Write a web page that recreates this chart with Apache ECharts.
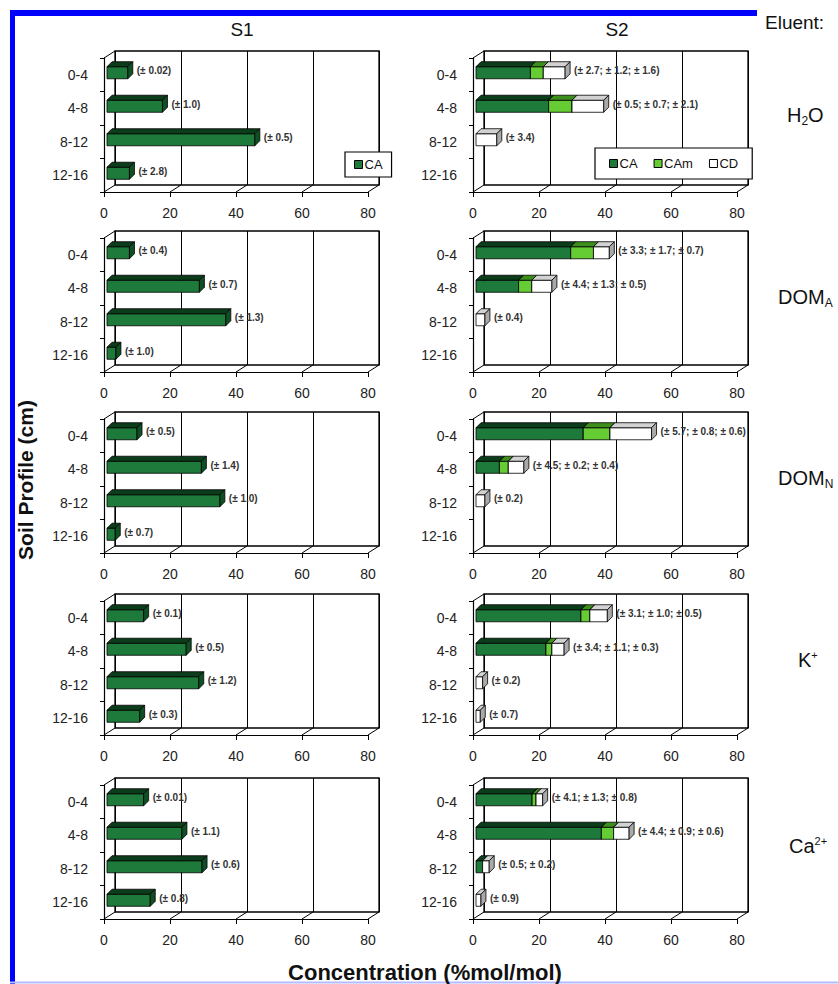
<!DOCTYPE html>
<html>
<head>
<meta charset="utf-8">
<title>Soil profile concentrations</title>
<script src="https://cdn.jsdelivr.net/npm/echarts@6/dist/echarts.min.js"></script>
<style>
html, body { margin: 0; padding: 0; background: #fff; }
#chart { width: 838px; height: 984px; }
</style>
</head>
<body>
<div id="chart"></div>
<script>
// depth classes on the y axis and ticks on the x axis
const categories = ['0-4', '4-8', '8-12', '12-16'];
const xTicks = [0, 20, 40, 60, 80];
const compNames = ['CA', 'CAm', 'CD'];

// S1 : CA only (%mol/mol)
const s1H2O = [6.3, 16.8, 44.8, 6.8];
const s1DomA = [6.8, 28.0, 36.0, 2.7];
const s1DomN = [9.1, 28.6, 34.2, 2.5];
const s1K = [11.1, 24.0, 27.8, 9.9];
const s1Ca = [11.1, 22.7, 28.8, 13.1];

// S2 : CA / CAm / CD
const s2H2O_CA = [16.5, 22.0, 0, 0];
const s2H2O_CAm = [3.9, 7.1, 0, 0];
const s2H2O_CD = [6.6, 9.6, 6.3, 0];
const s2DomA_CA = [28.7, 12.9, 0, 0];
const s2DomA_CAm = [6.9, 4.0, 0, 0];
const s2DomA_CD = [4.8, 6.1, 2.7, 0];
const s2DomN_CA = [32.5, 7.1, 0, 0];
const s2DomN_CAm = [8.1, 2.7, 0, 0];
const s2DomN_CD = [12.6, 4.7, 2.7, 0];
const s2K_CA = [31.8, 21.2, 0, 0];
const s2K_CAm = [2.7, 1.8, 0, 0];
const s2K_CD = [5.3, 3.7, 2.0, 1.3];
const s2Ca_CA = [17.0, 38.0, 2.0, 0];
const s2Ca_CAm = [1.2, 3.7, 0, 0];
const s2Ca_CD = [2.0, 4.7, 2.0, 1.5];

// error annotations
const s1H2O_err = ['(± 0.02)', '(± 1.0)', '(± 0.5)', '(± 2.8)'];
const s1DomA_err = ['(± 0.4)', '(± 0.7)', '(± 1.3)', '(± 1.0)'];
const s1DomN_err = ['(± 0.5)', '(± 1.4)', '(± 1.0)', '(± 0.7)'];
const s1K_err = ['(± 0.1)', '(± 0.5)', '(± 1.2)', '(± 0.3)'];
const s1Ca_err = ['(± 0.01)', '(± 1.1)', '(± 0.6)', '(± 0.8)'];
const s2H2O_err = ['(± 2.7; ± 1.2; ± 1.6)', '(± 0.5; ± 0.7; ± 2.1)', '(± 3.4)', ''];
const s2DomA_err = ['(± 3.3; ± 1.7; ± 0.7)', '(± 4.4; ± 1.3; ± 0.5)', '(± 0.4)', ''];
const s2DomN_err = ['(± 5.7; ± 0.8; ± 0.6)', '(± 4.5; ± 0.2; ± 0.4)', '(± 0.2)', ''];
const s2K_err = ['(± 3.1; ± 1.0; ± 0.5)', '(± 3.4; ± 1.1; ± 0.3)', '(± 0.2)', '(± 0.7)'];
const s2Ca_err = ['(± 4.1; ± 1.3; ± 0.8)', '(± 4.4; ± 0.9; ± 0.6)', '(± 0.5; ± 0.2)', '(± 0.9)'];

const FONT = '"Liberation Sans", Arial, sans-serif';

var panels = [
  { col: 0, row: 0, parts: [s1H2O], err: s1H2O_err },
  { col: 1, row: 0, parts: [s2H2O_CA, s2H2O_CAm, s2H2O_CD], err: s2H2O_err },
  { col: 0, row: 1, parts: [s1DomA], err: s1DomA_err },
  { col: 1, row: 1, parts: [s2DomA_CA, s2DomA_CAm, s2DomA_CD], err: s2DomA_err },
  { col: 0, row: 2, parts: [s1DomN], err: s1DomN_err },
  { col: 1, row: 2, parts: [s2DomN_CA, s2DomN_CAm, s2DomN_CD], err: s2DomN_err },
  { col: 0, row: 3, parts: [s1K], err: s1K_err },
  { col: 1, row: 3, parts: [s2K_CA, s2K_CAm, s2K_CD], err: s2K_err },
  { col: 0, row: 4, parts: [s1Ca], err: s1Ca_err },
  { col: 1, row: 4, parts: [s2Ca_CA, s2Ca_CAm, s2Ca_CD], err: s2Ca_err }
];

// layout
var colLeft = [104, 473];
var rowBottom = [192, 372, 553, 735, 919];
var plotW = 264, plotH = 134;
var DX = 11, DY = -7;       // wall depth
var BX = 5, BY = -5;        // bar depth
var faceColors = {
  CA: ['#1d7a3a', '#0b3d1b', '#0f4f24'],
  CAm: ['#66cc33', '#3d8f1c', '#4ba526'],
  CD: ['#ffffff', '#d2d2d2', '#a9a9a9']
};

function barRenderer(faces) {
  return function (params, api) {
    var v = api.value(0);
    if (!v) return null;
    var cat = api.value(1), base = api.value(2);
    var a = api.coord([base, cat]);
    var b = api.coord([base + v, cat]);
    var h = api.size([0, 1])[1] * 0.36;
    var x0 = a[0] + 3, x1 = b[0] + 3;
    var yT = a[1] - 2 - h / 2, yB = yT + h;
    return {
      type: 'group',
      children: [
        { type: 'rect', shape: { x: x0, y: yT, width: x1 - x0, height: h },
          style: { fill: faces[0], stroke: '#000', lineWidth: 0.8 } },
        { type: 'polygon', shape: { points: [[x0, yT], [x1, yT], [x1 + BX, yT + BY], [x0 + BX, yT + BY]] },
          style: { fill: faces[1], stroke: '#000', lineWidth: 0.8 } },
        { type: 'polygon', shape: { points: [[x1, yT], [x1 + BX, yT + BY], [x1 + BX, yB + BY], [x1, yB]] },
          style: { fill: faces[2], stroke: '#000', lineWidth: 0.8 } }
      ]
    };
  };
}

function labelRenderer(err) {
  return function (params, api) {
    var txt = err[params.dataIndex];
    if (!txt) return null;
    var p = api.coord([api.value(0), api.value(1)]);
    return {
      type: 'text', x: p[0] + 3 + BX + 4, y: p[1] - 4,
      style: { text: txt, fill: '#333', fontSize: 10, fontWeight: 'bold', fontFamily: FONT,
               align: 'left', verticalAlign: 'middle' }
    };
  };
}

function floorRenderer(params, api) {
  var cs = params.coordSys;
  var x = api.coord([api.value(0), 0])[0];
  var yb = cs.y + cs.height;
  var st = { stroke: '#000', lineWidth: 1 };
  var kids = [{ type: 'line', shape: { x1: x, y1: yb, x2: x + DX, y2: yb + DY }, style: st }];
  if (params.dataIndex === 0) {
    kids.push({ type: 'line', shape: { x1: cs.x, y1: cs.y, x2: cs.x + DX, y2: cs.y + DY }, style: st });
  }
  return { type: 'group', children: kids };
}

var grid = [], xAxis = [], yAxis = [], series = [];

panels.forEach(function (p, i) {
  var left = colLeft[p.col], top = rowBottom[p.row] - plotH;
  var gb = grid.length;
  // back wall
  grid.push({ left: left + DX, top: top + DY, width: plotW, height: plotH,
              show: true, borderColor: '#000', borderWidth: 1.3, backgroundColor: 'transparent' });
  xAxis.push({ type: 'value', gridIndex: gb, min: 0, max: 80, interval: 20,
               axisLine: { show: false }, axisTick: { show: false }, axisLabel: { show: false },
               splitLine: { show: true, lineStyle: { color: '#000', width: 1 } } });
  yAxis.push({ type: 'category', gridIndex: gb, data: categories, show: false });
  // front axes
  var gf = grid.length;
  grid.push({ left: left, top: top, width: plotW, height: plotH });
  xAxis.push({ type: 'value', gridIndex: gf, min: 0, max: 80, interval: 20,
               axisLine: { show: true, onZero: false, lineStyle: { color: '#000', width: 1.2 } },
               axisTick: { show: true, length: 5, lineStyle: { color: '#000' } },
               axisLabel: { fontSize: 14, color: '#222', margin: 14, fontFamily: FONT },
               splitLine: { show: false } });
  yAxis.push({ type: 'category', gridIndex: gf, data: categories, inverse: true,
               axisLine: { show: true, lineStyle: { color: '#000', width: 1.2 } },
               axisTick: { show: true, length: 4, lineStyle: { color: '#000' } },
               axisLabel: { fontSize: 14, color: '#222', margin: 16, fontFamily: FONT } });

  series.push({ type: 'custom', silent: true, xAxisIndex: gf, yAxisIndex: gf,
                renderItem: floorRenderer, data: xTicks.map(function (v) { return [v, 0]; }) });

  var base = categories.map(function () { return 0; });
  p.parts.forEach(function (vals, k) {
    var name = compNames[k];
    series.push({
      type: 'custom', name: name, xAxisIndex: gf, yAxisIndex: gf,
      itemStyle: { color: faceColors[name][0], borderColor: '#000', borderWidth: 1 },
      renderItem: barRenderer(faceColors[name]),
      encode: { x: 0, y: 1 },
      data: vals.map(function (v, j) { return [v, j, base[j]]; })
    });
    base = base.map(function (b, j) { return b + vals[j]; });
  });
  series.push({ type: 'custom', silent: true, xAxisIndex: gf, yAxisIndex: gf,
                renderItem: labelRenderer(p.err), encode: { x: 0, y: 1 },
                data: base.map(function (t, j) { return [t, j]; }) });
});

var legendBase = {
  orient: 'horizontal', icon: 'rect', itemWidth: 8, itemHeight: 8, itemGap: 16,
  borderColor: '#000', borderWidth: 1.2, backgroundColor: '#fff', selectedMode: false,
  itemStyle: { borderColor: '#000', borderWidth: 1 },
  textStyle: { fontSize: 13, color: '#111', fontFamily: FONT, padding: [0, 0, 0, -3] }
};

var sub = { fontSize: 12, fontFamily: FONT, padding: [12, 0, 0, 0] };
var sup = { fontSize: 11, fontFamily: FONT, padding: [0, 0, 10, 0] };
function sideLabel(text, x, y) {
  return { type: 'text', x: x, y: y,
           style: { text: text, fontSize: 20, fontFamily: FONT, fill: '#111', verticalAlign: 'middle',
                    rich: { s: sub, u: sup } } };
}

var option = {
  animation: false,
  grid: grid, xAxis: xAxis, yAxis: yAxis, series: series,
  legend: [
    Object.assign({}, legendBase, { data: ['CA'], left: 345, top: 152, padding: [6, 9] }),
    Object.assign({}, legendBase, { data: ['CA', 'CAm', 'CD'], left: 595, top: 148, padding: [9, 14] })
  ],
  graphic: [
    { type: 'line', shape: { x1: 10, y1: 13, x2: 757, y2: 13 }, style: { stroke: '#0000ff', lineWidth: 6 } },
    { type: 'line', shape: { x1: 12.5, y1: 10, x2: 12.5, y2: 984 }, style: { stroke: '#0000ff', lineWidth: 5 } },
    { type: 'line', shape: { x1: 10, y1: 982.5, x2: 838, y2: 982.5 }, style: { stroke: '#b4bcff', lineWidth: 2 } },
    { type: 'text', x: 242, y: 29, style: { text: 'S1', fontSize: 19, fontFamily: FONT, fill: '#111', align: 'center', verticalAlign: 'middle' } },
    { type: 'text', x: 617, y: 29, style: { text: 'S2', fontSize: 19, fontFamily: FONT, fill: '#111', align: 'center', verticalAlign: 'middle' } },
    { type: 'text', x: 765, y: 22, style: { text: 'Eluent:', fontSize: 19, fontFamily: FONT, fill: '#111', verticalAlign: 'middle' } },
    sideLabel('H{s|2}O', 787, 115),
    sideLabel('DOM{s|A}', 778, 297),
    sideLabel('DOM{s|N}', 778, 478),
    sideLabel('K{u|+}', 798, 660),
    sideLabel('Ca{u|2+}', 789, 846),
    { type: 'text', x: 25, y: 480, rotation: Math.PI / 2,
      style: { text: 'Soil Profile (cm)', fontSize: 21, fontWeight: 'bold', fontFamily: FONT, fill: '#111', align: 'center', verticalAlign: 'middle' } },
    { type: 'text', x: 425, y: 972,
      style: { text: 'Concentration (%mol/mol)', fontSize: 22, fontWeight: 'bold', fontFamily: FONT, fill: '#111', align: 'center', verticalAlign: 'middle' } }
  ]
};

var myChart = echarts.init(document.getElementById('chart'), null, { renderer: 'svg' });
myChart.setOption(option);
</script>
</body>
</html>
